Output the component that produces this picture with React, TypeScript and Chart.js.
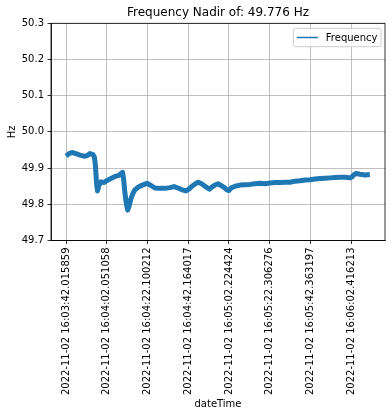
import React, { useEffect, useRef } from "react";
import { Chart, registerables } from "chart.js";

Chart.register(...registerables);

const titleText = "Frequency Nadir of: 49.776 Hz";
const seriesLabel = "Frequency";
const xAxisLabel = "dateTime";
const yAxisLabel = "Hz";

// sample index (row number in the record) and frequency in Hz
const sampleIndex = [
  0, 14, 28, 48, 68, 87, 102, 117, 132, 139, 144, 149, 154, 161, 171, 186, 201, 215, 230, 245,
  260, 269, 277, 282, 289, 296, 302, 309, 318, 328, 338, 355, 374, 397, 417, 436, 461, 485, 510, 530,
  549, 569, 589, 603, 618, 633, 648, 662, 677, 692, 704, 717, 731, 746, 761, 776, 790, 800, 810, 830,
  854, 879, 903, 928, 953, 977, 1002, 1026, 1051, 1076, 1100, 1125, 1149, 1174, 1198, 1223, 1248, 1272, 1297, 1321,
  1346, 1370, 1395, 1405, 1414, 1424, 1444, 1469, 1492,
];
const frequencyHz = [
  49.933, 49.940, 49.943, 49.940, 49.936, 49.933, 49.934, 49.940, 49.937, 49.930, 49.905, 49.860, 49.837, 49.852, 49.862, 49.860, 49.866, 49.870, 49.874, 49.878,
  49.880, 49.885, 49.888, 49.870, 49.830, 49.800, 49.784, 49.795, 49.815, 49.830, 49.840, 49.848, 49.853, 49.858, 49.852, 49.845, 49.844, 49.844, 49.846, 49.849,
  49.845, 49.840, 49.837, 49.842, 49.850, 49.856, 49.861, 49.858, 49.852, 49.846, 49.842, 49.848, 49.853, 49.857, 49.852, 49.847, 49.840, 49.838, 49.845, 49.850,
  49.853, 49.854, 49.855, 49.857, 49.858, 49.857, 49.859, 49.860, 49.860, 49.861, 49.861, 49.864, 49.865, 49.867, 49.868, 49.870, 49.871, 49.872, 49.873, 49.874,
  49.875, 49.875, 49.873, 49.876, 49.882, 49.885, 49.883, 49.881, 49.882,
];

const xTickIndex = [0, 200, 400, 600, 800, 1000, 1200, 1400];
const xTickLabels = [
  "2022-11-02 16:03:42.015859",
  "2022-11-02 16:04:02.051058",
  "2022-11-02 16:04:22.100212",
  "2022-11-02 16:04:42.164017",
  "2022-11-02 16:05:02.224424",
  "2022-11-02 16:05:22.306276",
  "2022-11-02 16:05:42.363197",
  "2022-11-02 16:06:02.416213",
];
const yTicks = [49.7, 49.8, 49.9, 50.0, 50.1, 50.2, 50.3];

const FONT = "DejaVu Sans";
const LINE_COLOR = "#1f77b4";

const framePlugin = {
  id: "frame",
  afterDatasetsDraw(chart: any) {
    const { ctx, chartArea: a } = chart;
    ctx.save();
    ctx.strokeStyle = "#000";
    ctx.lineWidth = 0.8;
    ctx.strokeRect(a.left, a.top, a.right - a.left, a.bottom - a.top);
    ctx.restore();
  },
};

const legendBoxPlugin = {
  id: "legendBox",
  afterDraw(chart: any) {
    const { ctx, chartArea: a } = chart;
    const ds = chart.data.datasets[0];
    ctx.save();
    ctx.font = `10px "${FONT}"`;
    const tw = ctx.measureText(ds.label).width;
    const w = tw + 36;
    const h = 18.4;
    const x = a.right - 4 - w;
    const y = a.top + 5;
    const r = 2;
    ctx.beginPath();
    ctx.moveTo(x + r, y);
    ctx.lineTo(x + w - r, y);
    ctx.arcTo(x + w, y, x + w, y + r, r);
    ctx.lineTo(x + w, y + h - r);
    ctx.arcTo(x + w, y + h, x + w - r, y + h, r);
    ctx.lineTo(x + r, y + h);
    ctx.arcTo(x, y + h, x, y + h - r, r);
    ctx.lineTo(x, y + r);
    ctx.arcTo(x, y, x + r, y, r);
    ctx.closePath();
    ctx.fillStyle = "rgba(255,255,255,0.8)";
    ctx.fill();
    ctx.strokeStyle = "#cccccc";
    ctx.lineWidth = 1;
    ctx.stroke();
    const cy = y + h / 2;
    ctx.beginPath();
    ctx.moveTo(x + 3.5, cy);
    ctx.lineTo(x + 24.5, cy);
    ctx.strokeStyle = ds.borderColor;
    ctx.lineWidth = 1.5;
    ctx.stroke();
    ctx.fillStyle = "#000";
    ctx.textBaseline = "middle";
    ctx.textAlign = "left";
    ctx.fillText(ds.label, x + 32.5, cy + 0.5);
    ctx.restore();
  },
};

export default function App() {
  const ref = useRef<HTMLCanvasElement | null>(null);

  useEffect(() => {
    if (!ref.current) return;
    const first = sampleIndex[0];
    const last = sampleIndex[sampleIndex.length - 1];
    const margin = (last - first) * 0.05;
    const chart = new Chart(ref.current, {
      type: "line",
      data: {
        datasets: [
          {
            label: seriesLabel,
            data: sampleIndex.map((x, i) => ({ x, y: frequencyHz[i] })),
            borderColor: LINE_COLOR,
            backgroundColor: LINE_COLOR,
            borderWidth: 5,
            borderJoinStyle: "round",
            borderCapStyle: "butt",
            pointRadius: 0,
            tension: 0,
            fill: false,
          },
        ],
      },
      options: {
        animation: false,
        responsive: false,
        devicePixelRatio: 1,
        layout: { padding: { left: 0, right: 7, top: 0, bottom: 0 } },
        plugins: {
          legend: { display: false },
          tooltip: { enabled: false },
          title: {
            display: true,
            text: titleText,
            fullSize: false,
            color: "#000",
            font: { family: FONT, size: 12, weight: "normal" },
            padding: { top: 6, bottom: 2.9 },
          },
        },
        scales: {
          x: {
            type: "linear",
            min: first - margin,
            max: last + margin,
            afterBuildTicks: (scale: any) => {
              scale.ticks = xTickIndex.map((v) => ({ value: v }));
            },
            afterFit: (scale: any) => {
              scale.height = 175.5;
            },
            ticks: {
              autoSkip: false,
              minRotation: 90,
              maxRotation: 90,
              padding: 3.5,
              color: "#000",
              font: { family: FONT, size: 10 },
              callback: (v: any) => {
                const i = xTickIndex.indexOf(Number(v));
                return i >= 0 ? xTickLabels[i] : "";
              },
            },
            grid: {
              color: "#b0b0b0",
              lineWidth: 0.8,
              tickColor: "#000",
              tickWidth: 0.8,
              tickLength: 3.5,
            },
            border: { display: true, color: "#000", width: 0.8 },
            title: {
              display: true,
              text: xAxisLabel,
              color: "#000",
              font: { family: FONT, size: 10 },
              padding: { top: 0, bottom: 6 },
            },
          },
          y: {
            type: "linear",
            min: yTicks[0],
            max: yTicks[yTicks.length - 1],
            afterBuildTicks: (scale: any) => {
              scale.ticks = yTicks.map((v) => ({ value: v }));
            },
            afterFit: (scale: any) => {
              scale.width = 51;
            },
            ticks: {
              padding: 3.5,
              color: "#000",
              font: { family: FONT, size: 10 },
              callback: (v: any) => Number(v).toFixed(1),
            },
            grid: {
              color: "#b0b0b0",
              lineWidth: 0.8,
              tickColor: "#000",
              tickWidth: 0.8,
              tickLength: 3.5,
            },
            border: { display: true, color: "#000", width: 0.8 },
            title: {
              display: true,
              text: yAxisLabel,
              color: "#000",
              font: { family: FONT, size: 10 },
              padding: { top: 6, bottom: 0 },
            },
          },
        },
      },
      plugins: [framePlugin, legendBoxPlugin],
    } as any);
    return () => chart.destroy();
  }, []);

  return (
    <div style={{ position: "fixed", left: 0, top: 0, width: 392, height: 416, background: "#fff" }}>
      <canvas ref={ref} width={392} height={416} style={{ width: 392, height: 416, display: "block" }} />
    </div>
  );
}
